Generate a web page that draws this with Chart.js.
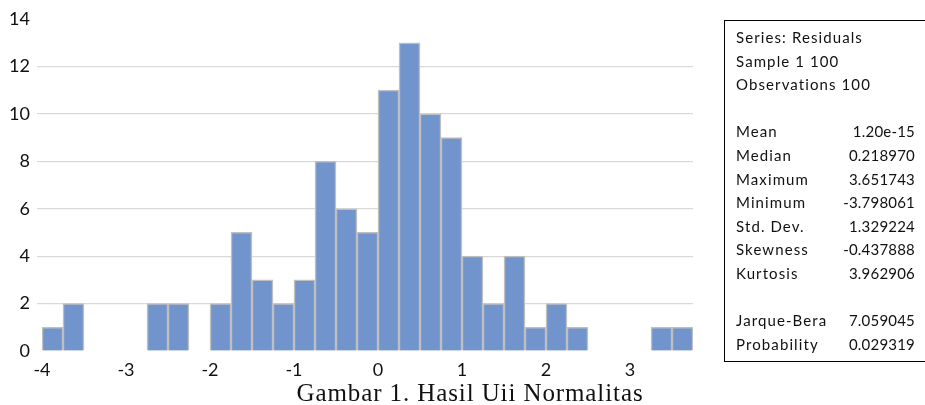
<!DOCTYPE html>
<html>
<head>
<meta charset="utf-8">
<script src="https://cdn.jsdelivr.net/npm/chart.js@4.4.1/dist/chart.umd.min.js"></script>
<style>
  html, body { margin: 0; padding: 0; background: #fff; }
  #wrap { position: relative; width: 925px; height: 405px; overflow: hidden; }
  #myChart { position: absolute; left: 0; top: 0; }
  #stats {
    position: absolute; left: 724px; top: 20px; width: 240px; height: 342px;
    border: 1.5px solid #000; box-sizing: border-box;
    font-family: Lato, "Open Sans", sans-serif; font-size: 15px; color: #111;
  }
  #stats .row { position: absolute; left: 11px; width: 179px; height: 20px; line-height: 20px; letter-spacing: 1.1px; }
  #stats .row .v { position: absolute; right: 0; top: 0; letter-spacing: 0.2px; }
  #caption {
    position: absolute; left: 200px; width: 540px; top: 380px; line-height: 25px; text-align: center;
    font-family: "Liberation Serif", "DejaVu Serif", serif; font-size: 25px; letter-spacing: 0.9px; color: #111;
  }
</style>
</head>
<body>
<div id="wrap">
  <canvas id="myChart" width="925" height="405"></canvas>
  <div id="stats"></div>
  <div id="caption">Gambar 1. Hasil Uii Normalitas</div>
</div>
<script>
// histogram bins (left edge), width 0.25
const binStarts = [-4, -3.75, -3.5, -3.25, -3, -2.75, -2.5, -2.25, -2, -1.75, -1.5, -1.25, -1, -0.75, -0.5, -0.25,
                   0, 0.25, 0.5, 0.75, 1, 1.25, 1.5, 1.75, 2, 2.25, 2.5, 2.75, 3, 3.25, 3.5]
const counts = [1, 2, 0, 0, 0, 2, 2, 0, 2, 5, 3, 2, 3, 8, 6, 5,
                11, 13, 10, 9, 4, 2, 4, 1, 2, 1, 0, 0, 0, 1, 1]
const binWidth = 0.25
const xTicks = [-4, -3, -2, -1, 0, 1, 2, 3]

// stats box text
const statLabels = ["Series: Residuals", "Sample 1 100", "Observations 100", "",
  "Mean", "Median", "Maximum", "Minimum", "Std. Dev.", "Skewness", "Kurtosis", "",
  "Jarque-Bera", "Probability"]
const statValues = ["", "", "", "",
  "1.20e-15", "0.218970", "3.651743", "-3.798061", "1.329224", "-0.437888", "3.962906", "",
  "7.059045", "0.029319"]

const statsDiv = document.getElementById("stats")
statLabels.forEach((lab, i) => {
  if (lab === "") return
  const row = document.createElement("div")
  row.className = "row"
  row.style.top = (6 + i * 23.6) + "px"
  row.innerHTML = "<span>" + lab + "</span><span class='v'>" + statValues[i] + "</span>"
  statsDiv.appendChild(row)
})

const points = binStarts.map((b, i) => ({x: b + binWidth / 2, y: counts[i]}))

const ctx = document.getElementById("myChart")
const myChart = new Chart(ctx, {
  type: 'bar',
  data: {
    datasets: [{
      data: points,
      backgroundColor: 'rgb(114, 148, 204)',
      borderColor: 'rgb(191, 191, 191)',
      borderWidth: 1.5,
      barPercentage: 1,
      categoryPercentage: 1
    }]
  },
  options: {
    responsive: false,
    animation: false,
    layout: { padding: { left: 0, right: 232, top: 19, bottom: 0 } },
    plugins: { legend: { display: false }, tooltip: { enabled: false } },
    scales: {
      x: {
        type: 'linear',
        min: -4,
        max: 3.75,
        offset: false,
        grid: { display: false },
        border: { display: false },
        afterBuildTicks: (axis) => {
          axis.ticks = xTicks.map(v => ({value: v}))
        },
        afterFit: (axis) => { axis.height = 54 },
        ticks: {
          maxRotation: 0,
          autoSkip: false,
          padding: 0,
          color: '#111',
          font: { family: 'Lato', size: 18 },
          callback: (v) => String(v)
        }
      },
      y: {
        min: 0,
        max: 14,
        afterFit: (axis) => { axis.width = 42 },
        border: { display: false },
        grid: {
          color: (c) => (c.tick && (c.tick.value === 0 || c.tick.value === 14)) ? 'rgba(0,0,0,0)' : 'rgb(217, 217, 217)',
          lineWidth: 1.2,
          tickLength: 5
        },
        ticks: {
          stepSize: 2,
          padding: 7,
          color: '#111',
          font: { family: 'Lato', size: 18 }
        }
      }
    }
  }
})
</script>
</body>
</html>
